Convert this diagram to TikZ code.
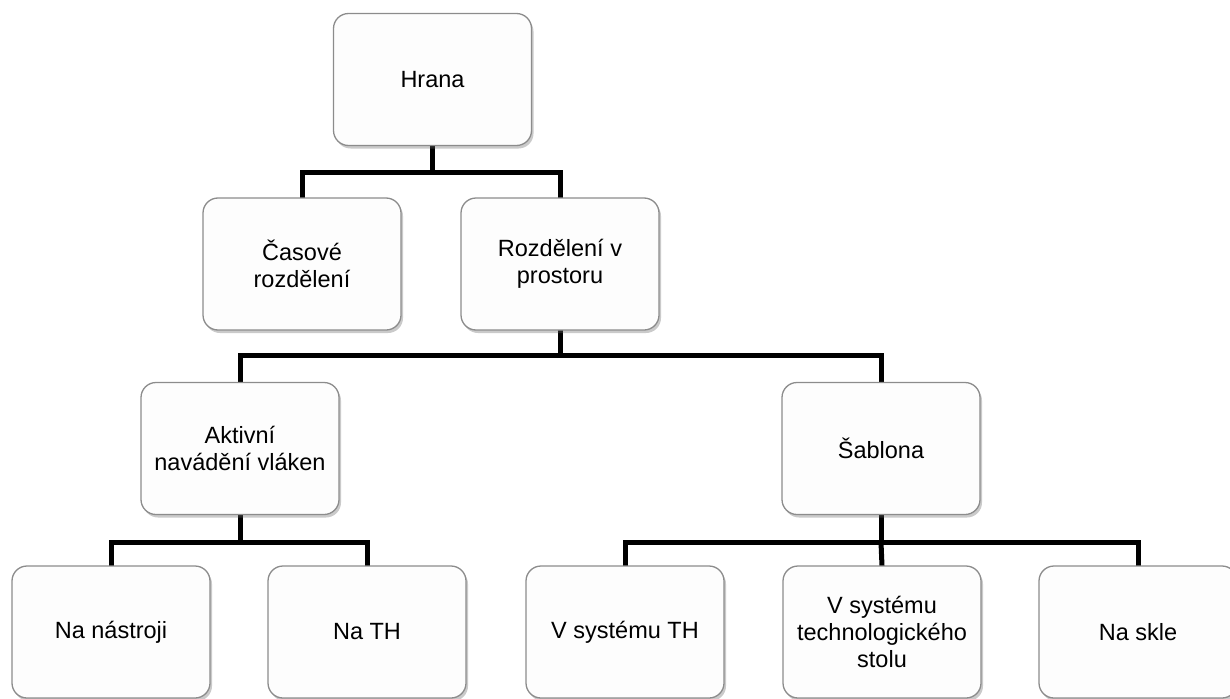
\documentclass[tikz,border=0pt]{standalone}
\usepackage{fontspec}
\setmainfont{Liberation Sans}
\usetikzlibrary{shadows}
\definecolor{boxline}{HTML}{8C8C8C}
\definecolor{boxfill}{HTML}{FDFDFD}
\begin{document}
\begin{tikzpicture}[x=1pt,y=-1pt,
  box/.style={draw=boxline, line width=1.3pt, fill=boxfill, rounded corners=15pt,
    minimum width=198pt, minimum height=132pt, align=center, inner sep=4pt,
    font=\fontsize{23.5}{27}\selectfont,
    drop shadow={shadow xshift=2pt, shadow yshift=-3pt, opacity=0.35, fill=black!60}},
  conn/.style={line width=5pt, draw=black}]
\useasboundingbox (0,0) rectangle (1230,698);
\begin{scope}
\clip (0,0) rectangle (1230,698);
% junctions
\coordinate (j1) at (432.5,172.5);
\coordinate (j2) at (560,355.5);
\coordinate (j3) at (240,542.5);
\coordinate (j4) at (881,542.5);
% connectors
\draw[conn] (432.5,146) -- (j1);
\draw[conn] (302,198) |- (j1) -| (560,198);
\draw[conn] (560,330) -- (j2);
\draw[conn] (240,382) |- (j2) -| (881,382);
\draw[conn] (240,515) -- (j3);
\draw[conn] (111,566) |- (j3) -| (367,566);
\draw[conn] (881,515) -- (j4);
\draw[conn] (625,566) |- (j4) -| (1138,566);
\draw[conn] (j4) -- (882,566);
% nodes
\node[box] (hrana) at (432.5,79.5) {Hrana};
\node[box] (cas) at (302,264) {Časové\\rozdělení};
\node[box] (roz) at (560,264) {Rozdělení v\\prostoru};
\node[box] (akt) at (240,448.5) {Aktivní\\navádění vláken};
\node[box] (sab) at (881,448.5) {Šablona};
\node[box] (nas) at (111,632) {Na nástroji};
\node[box] (nath) at (367,632) {Na TH};
\node[box] (vsth) at (625,632) {V systému TH};
\node[box] (vste) at (882,632) {V systému\\technologického\\stolu};
\node[box] (skl) at (1138,632) {Na skle};
\end{scope}
\end{tikzpicture}
\end{document}
